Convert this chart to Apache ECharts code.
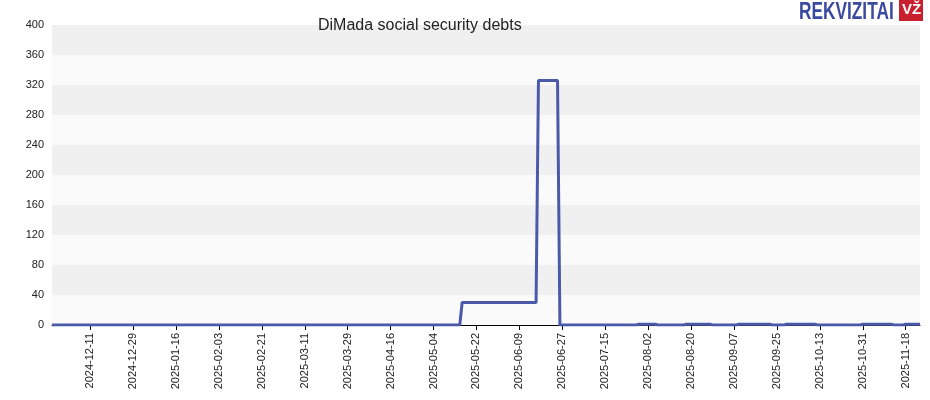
<!DOCTYPE html>
<html>
<head>
<meta charset="utf-8">
<script src="https://cdn.jsdelivr.net/npm/echarts@6/dist/echarts.min.js"></script>
<style>
  body { margin: 0; background: #fff; }
  #chart { width: 930px; height: 400px; }
</style>
</head>
<body>
<div id="chart"></div>
<script>
var firstDay = '2024-11-25';
var lastDay = '2025-11-24';
// step changes: the value holds from each date until the next one
var stepDates = ['2024-11-25', '2025-05-16', '2025-06-17', '2025-06-26', '2025-07-29', '2025-08-06',
  '2025-08-18', '2025-08-29', '2025-09-09', '2025-09-23', '2025-09-29', '2025-10-12', '2025-10-31',
  '2025-11-13', '2025-11-18'];
var stepValues = [0, 30, 326, 0, 1, 0, 1, 0, 1, 0, 1, 0, 1, 0, 1];

function fmt(d) {
  return d.toISOString().slice(0, 10);
}

var days = [];
var values = [];
var d = new Date(firstDay + 'T00:00:00Z');
var end = new Date(lastDay + 'T00:00:00Z');
var k = 0;
while (d <= end) {
  var s = fmt(d);
  while (k + 1 < stepDates.length && stepDates[k + 1] <= s) k++;
  days.push(s);
  values.push(stepValues[k]);
  d.setUTCDate(d.getUTCDate() + 1);
}
var labelStart = days.indexOf('2024-12-11');
function showIdx(i) { return i >= labelStart && (i - labelStart) % 18 === 0; }

var chart = echarts.init(document.getElementById('chart'));
chart.setOption({
  animation: false,
  title: {
    text: 'DiMada social security debts',
    left: 313, top: 13,
    textStyle: { fontFamily: 'Arial, Liberation Sans', fontSize: 16, fontWeight: 'normal', color: '#222' }
  },
  graphic: [
    { type: 'text', x: 799, y: 0, scaleX: 0.72, style: { text: 'REKVIZITAI', fontFamily: 'Liberation Sans, Arial', fontSize: 24, fontWeight: 'bold', fill: '#3a4aa0' } },
    { type: 'rect', left: 899, top: 0, shape: { width: 24, height: 21 }, style: { fill: '#c8202f' } },
    { type: 'text', left: 902, top: 2, style: { text: 'VŽ', fontFamily: 'Arial', fontSize: 15, fontWeight: 'bold', fill: '#fff' } }
  ],
  grid: { left: 52, right: 10, top: 25, bottom: 75 },
  xAxis: {
    type: 'category',
    data: days,
    boundaryGap: false,
    axisLine: { lineStyle: { color: '#000' } },
    axisTick: { interval: function (i) { return showIdx(i); }, lineStyle: { color: '#000' } },
    axisLabel: {
      interval: function (i) { return showIdx(i); },
      rotate: 90, fontSize: 11, color: '#222', fontFamily: 'Arial, Liberation Sans'
    },
    splitLine: { show: false }
  },
  yAxis: {
    type: 'value',
    min: 0, max: 400, interval: 40,
    axisLine: { show: false },
    axisTick: { show: false },
    axisLabel: { fontSize: 11, color: '#222', fontFamily: 'Arial, Liberation Sans' },
    splitLine: { show: false },
    splitArea: { show: true, areaStyle: { color: ['#fafafa', '#f0f0f0'] } }
  },
  series: [{
    type: 'line',
    data: values,
    showSymbol: false,
    lineStyle: { color: '#4a5aa8', width: 3 }
  }]
});
</script>
</body>
</html>
